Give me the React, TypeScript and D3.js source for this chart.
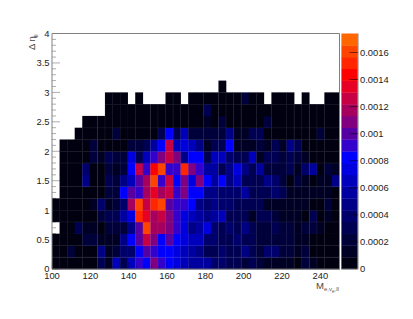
import React from "react";
import * as d3 from "d3";

const FONT = "'Liberation Sans', Arial, sans-serif";
const Z_MAX = 0.00174;
const X_BINS = 38;
const Y_BINS = 20;
const W = -1;

// palette steps per bin, rows from eta = 0 upward, W = empty bin
const row00 = [0,0,0,0,0,0,3,1,7,3,7,10,9,12,10,9,8,7,6,6,6,4,4,3,3,2,3,2,1,1,1,1,0,2,1,0,0,0];
const row01 = [0,0,2,0,0,0,5,1,2,4,4,9,11,10,9,9,8,7,6,5,3,3,4,3,3,5,3,2,4,4,2,2,1,2,0,0,0,0];
const row02 = [0,0,0,0,2,2,1,1,1,5,9,11,14,12,9,11,9,8,7,7,4,4,3,3,4,3,3,2,2,2,2,2,1,1,0,0,0,0];
const row03 = [W,0,0,3,1,1,0,2,2,2,5,11,18,13,13,12,10,8,5,6,8,4,3,4,3,5,3,2,2,3,2,2,1,2,2,1,0,0];
const row04 = [0,0,0,0,0,0,2,3,3,6,8,17,15,13,14,12,10,8,7,6,5,6,7,3,3,3,1,3,3,2,1,1,1,0,3,0,1,0];
const row05 = [0,0,0,0,0,1,4,1,2,4,13,18,14,17,18,11,10,10,9,5,4,5,4,4,3,3,3,3,1,1,1,1,1,1,0,0,2,0];
const row06 = [W,0,0,0,0,0,0,2,2,9,11,10,13,15,13,14,10,12,9,9,5,5,4,4,4,6,3,3,3,4,3,1,1,1,1,1,1,0];
const row07 = [W,0,0,0,5,0,0,3,2,5,7,11,13,18,10,14,9,12,8,12,9,6,9,5,7,3,3,3,5,4,2,0,2,1,0,1,1,5];
const row08 = [W,0,0,0,4,0,0,2,1,2,9,14,10,16,18,10,10,17,12,10,6,6,3,5,8,5,3,6,2,2,2,3,1,4,6,0,2,1];
const row09 = [W,0,0,0,0,2,1,3,2,2,8,3,7,10,12,14,12,5,9,9,3,7,7,4,3,3,7,1,3,3,2,3,2,1,0,0,0,0];
const row10 = [W,0,0,0,0,2,0,0,0,0,2,2,3,6,9,14,7,8,7,5,1,3,3,9,1,1,1,2,1,3,1,5,3,0,0,0,0,0];
const row11 = [W,W,W,0,0,0,0,0,2,0,0,0,0,0,3,9,3,7,2,2,2,2,2,5,1,1,3,3,0,0,0,0,0,0,0,2,0,0];
const row12 = [W,W,W,W,0,0,0,0,0,0,0,0,0,0,0,0,0,0,0,0,1,0,2,0,0,0,0,0,2,0,0,0,0,0,0,0,0,0];
const row13 = [W,W,W,W,W,W,W,0,0,0,0,0,0,0,0,0,0,0,0,0,3,0,0,0,0,0,0,0,0,0,0,0,0,0,0,0,0,0];
const row14 = [W,W,W,W,W,W,W,0,0,0,W,0,W,W,W,0,0,W,0,0,0,0,0,0,0,2,0,0,W,0,0,0,W,0,W,W,0,0];
const row15 = [W,W,W,W,W,W,W,W,W,W,W,W,W,W,W,W,W,W,W,W,W,W,0,W,W,W,W,W,W,W,W,W,W,W,W,W,W,W];
const rows = [row00,row01,row02,row03,row04,row05,row06,row07,row08,row09,row10,row11,row12,row13,row14,row15];

const palette = ["#000010","#000024","#00003a","#000052","#00006c","#000086","#0000a0","#0000bc","#0000de","#0000ff","#3400cc","#5600a4","#800080","#a5005e","#c60042","#e60024","#ff0000","#ff2600","#ff4400","#ff6600"];

const xTickValues = [100,120,140,160,180,200,220,240];
const yTickValues = [0,0.5,1,1.5,2,2.5,3,3.5,4];
const zTickValues = [0,0.0002,0.0004,0.0006,0.0008,0.001,0.0012,0.0014,0.0016];
const faintColEdges = [6,7,13,14,16,17,22,23,24,25,32,33,34,35];
const faintRowEdges = [1,4,7,9,12];

const x = d3.scaleLinear().domain([100, 250]).range([52, 339.5]);
const y = d3.scaleLinear().domain([0, 4]).range([269, 33.5]);
const z = d3.scaleLinear().domain([0, Z_MAX]).range([269, 33.5]);
const colEdge = d3.scaleLinear().domain([0, X_BINS]).range(x.domain());
const rowEdge = d3.scaleLinear().domain([0, Y_BINS]).range(y.domain());
const step = Z_MAX / palette.length;
const color = d3.scaleQuantize<string>().domain([0, Z_MAX]).range(palette);

const GREY = "#808080";

export default function App() {
  const xMinor = d3.range(100, 250.01, 4);
  const yMinor = d3.range(0, 4.001, 0.1);
  return (
    <svg width={413} height={319} style={{ position: "absolute", left: 0, top: 0, background: "#fff" }} fontFamily={FONT}>
      {yMinor.map((v, i) => {
        const major = i % 5 === 0;
        return <line key={i} x1={52} x2={major ? 60 : 56} y1={y(v)} y2={y(v)} stroke="#999" strokeWidth={0.8} />;
      })}
      {rows.map((row, r) =>
        row.map((lvl, c) => {
          if (lvl < 0) return null;
          const x0 = x(colEdge(c));
          const x1 = x(colEdge(c + 1));
          const y1 = y(rowEdge(r));
          const y0 = y(rowEdge(r + 1));
          return <rect key={r + "-" + c} x={x0} y={y0} width={x1 - x0 + 0.3} height={y1 - y0 + 0.3} fill={color((lvl + 0.5) * step)} />;
        })
      )}
      {faintColEdges.map((e) => {
        const px = x(colEdge(e));
        const top = rows.reduce((t, row, r) => (row[e] >= 0 ? r : t), 0);
        return <line key={"c" + e} x1={px} x2={px} y1={y(rowEdge(top + 1))} y2={269} stroke="#8888b0" strokeOpacity={0.12} strokeWidth={1} />;
      })}
      {faintRowEdges.map((e) => {
        const row = rows[e];
        const first = row.findIndex((v) => v >= 0);
        return <line key={"r" + e} x1={x(colEdge(first))} x2={339.5} y1={y(rowEdge(e))} y2={y(rowEdge(e))} stroke="#8888b0" strokeOpacity={0.12} strokeWidth={1} />;
      })}
      {xMinor.map((v, i) => (
        <line key={i} x1={x(v)} x2={x(v)} y1={269} y2={i % 5 === 0 ? 262 : 265.5} stroke="#000" strokeOpacity={0.35} strokeWidth={0.8} />
      ))}
      <path d="M52,269V33.5H339.5V269" fill="none" stroke={GREY} strokeWidth={1} />
      <line x1={52} x2={339.5} y1={269} y2={269} stroke="#666" strokeWidth={1} />
      {xTickValues.map((v) => (
        <text key={v} x={x(v)} y={279} textAnchor="middle" fontSize={9.4} fill="#222">{v}</text>
      ))}
      {yTickValues.map((v) => (
        <text key={v} x={49.5} y={y(v) + 3.4} textAnchor="end" fontSize={9.4} fill="#222">{v}</text>
      ))}
      {palette.map((c, i) => (
        <rect key={c} x={341.4} y={z((i + 1) * step)} width={16.4} height={z(i * step) - z((i + 1) * step) + 0.3} fill={c} />
      ))}
      <line x1={358} x2={358} y1={33.5} y2={269} stroke={GREY} strokeWidth={1} />
      <line x1={341.4} x2={358} y1={269} y2={269} stroke="#888" strokeWidth={0.8} />
      {zTickValues.map((v) => (
        <g key={v}>
          {v > 0 && <line x1={349.5} x2={358} y1={z(v)} y2={z(v)} stroke="#000" strokeOpacity={0.7} strokeWidth={0.8} />}
          <text x={360} y={z(v) + 3.4} fontSize={9.4} fill="#222">{v}</text>
        </g>
      ))}
      <text x={316} y={288.5} fontSize={9.5} fill="#444">M</text>
      <text x={324} y={291} fontSize={6} fill="#555">e,ν<tspan dy={1.5} fontSize={4.5}>e</tspan><tspan dy={-1.5}>,ll</tspan></text>
      <g transform="translate(35,50) rotate(-90)">
        <text x={0} y={0} fontSize={9.5} fill="#444">Δ η</text>
        <text x={13} y={2.5} fontSize={6} fill="#444">ll</text>
      </g>
    </svg>
  );
}
